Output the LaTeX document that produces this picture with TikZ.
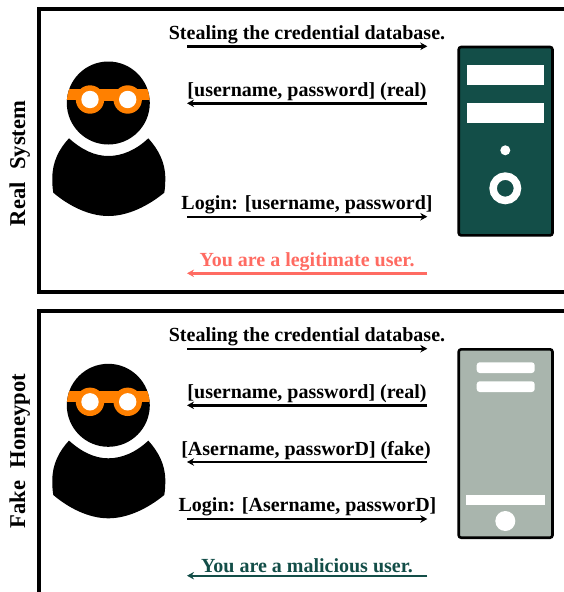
\documentclass[tikz,border=0pt]{standalone}
\usepackage{fontspec}
\setmainfont{Liberation Serif}
\usetikzlibrary{arrows.meta}
\definecolor{dgreen}{HTML}{134E48}
\definecolor{lgreen}{HTML}{A9B5AD}
\definecolor{sred}{HTML}{FF6B62}
\definecolor{sorange}{HTML}{FF8000}
\tikzset{
  msg/.style={font=\bfseries\fontsize{20}{22}\selectfont,anchor=base,inner sep=0pt},
  side/.style={font=\bfseries\fontsize{22.6}{24}\selectfont,anchor=base,inner sep=0pt,rotate=90},
  flow/.style={line width=2.4pt,-{Stealth[length=7pt,width=7.5pt]}},
  frame/.style={draw=black,line width=3.8pt},
  srv/.style={draw=black,line width=2.6pt,rounded corners=2.5pt},
  pics/hacker/.style={code={
    \fill[black] (69,138.3) .. controls (82,150) and (95,156) .. (108.3,156)
      .. controls (122,156) and (136,150) .. (148.3,138.3)
      .. controls (158,149) and (165.3,162) .. (165.3,178)
      .. controls (165.3,184) and (165,188) .. (164.3,192.7)
      .. controls (148,206) and (128,216) .. (108.3,216)
      .. controls (89,216) and (69,206) .. (53.3,192.7)
      .. controls (52.5,188) and (52.3,184) .. (52.3,178)
      .. controls (52.3,162) and (59,149) .. (69,138.3) -- cycle;
    \fill[black] (108.3,103) circle[radius=41.5];
    \begin{scope}
      \clip (108.3,103) circle[radius=41.5];
      \fill[sorange] (60,88.5) rectangle (160,99.5);
    \end{scope}
    \fill[sorange] (90,99.5) circle[radius=14.2];
    \fill[sorange] (127.7,99.5) circle[radius=14.2];
    \fill[sorange] (90,88.5) rectangle (127.7,100.5);
    \fill[white] (90,99.5) circle[radius=8.7];
    \fill[white] (127.7,99.5) circle[radius=8.7];
  }}
}
\begin{document}
\begin{tikzpicture}[x=1pt,y=-1pt]
\useasboundingbox (0,0) rectangle (564,592);
\begin{scope}
\clip (0,0) rectangle (564,592);
\draw[frame] (39,9) rectangle (580,292);
\draw[frame] (39,311) rectangle (580,620);
\end{scope}

\node[side] (lab1) at (25,163.5) {Real\hspace{0.55em}System};
\node[side] (lab2) at (25,451) {Fake\hspace{0.55em}Honeypot};

\pic (h1) at (0,0) {hacker};
\pic (h2) at (0,302.3) {hacker};

% server 1
\node[srv,fill=dgreen,inner sep=0pt] (s1) at (505.6,141.2) {\tikz[x=1pt,y=1pt]\path (0,0) rectangle (93.8,188.4);};
\fill[white] (467.3,65) rectangle (544,84.7);
\fill[white] (467.3,103) rectangle (544,122.7);
\fill[white] (505.3,150.3) circle[radius=5];
\draw[white,line width=7.5pt] (505.3,188.3) circle[radius=12.2];

% server 2
\node[srv,fill=lgreen,inner sep=0pt] (s2) at (505.6,443.5) {\tikz[x=1pt,y=1pt]\path (0,0) rectangle (93.8,188.4);};
\fill[white,rounded corners=3pt] (476.7,362.3) rectangle (534.7,373);
\fill[white,rounded corners=3pt] (476.7,381.3) rectangle (534.7,392);
\fill[white] (466.3,495) rectangle (545,505.3);
\fill[white] (505.3,521) circle[radius=10];

% coordinates
\foreach \n/\y in {a/46.3,b/103.3,c/216.7,d/273.3,e/348.7,f/405.3,g/462,i/519,j/575.7}{
  \coordinate (\n l) at (187,\y);
  \coordinate (\n r) at (427.3,\y);
}
\draw[flow] (al) -- (ar);
\draw[flow] (br) -- (bl);
\draw[flow] (cl) -- (cr);
\draw[flow,draw=sred,-{Stealth[length=7pt,width=7.5pt,sred]}] (dr) -- (dl);
\draw[flow] (el) -- (er);
\draw[flow] (fr) -- (fl);
\draw[flow] (gr) -- (gl);
\draw[flow] (il) -- (ir);
\draw[flow,draw=dgreen,-{Stealth[length=7pt,width=7.5pt,dgreen]}] (jr) -- (jl);

\node[msg] (t1) at (307,39) {Stealing the credential database.};
\node[msg] (t2) at (307,96) {[username, password] (real)};
\node[msg] (t3) at (307,209) {Login: [username, password]};
\node[msg,text=sred] (t4) at (307,266) {You are a legitimate user.};
\node[msg] (t5) at (307,341) {Stealing the credential database.};
\node[msg] (t6) at (307,398.5) {[username, password] (real)};
\node[msg] (t7) at (306,455) {[Asername, passworD] (fake)};
\node[msg] (t8) at (307.5,511) {Login: [Asername, passworD]};
\node[msg,text=dgreen] (t9) at (307,572) {You are a malicious user.};
\end{tikzpicture}
\end{document}
